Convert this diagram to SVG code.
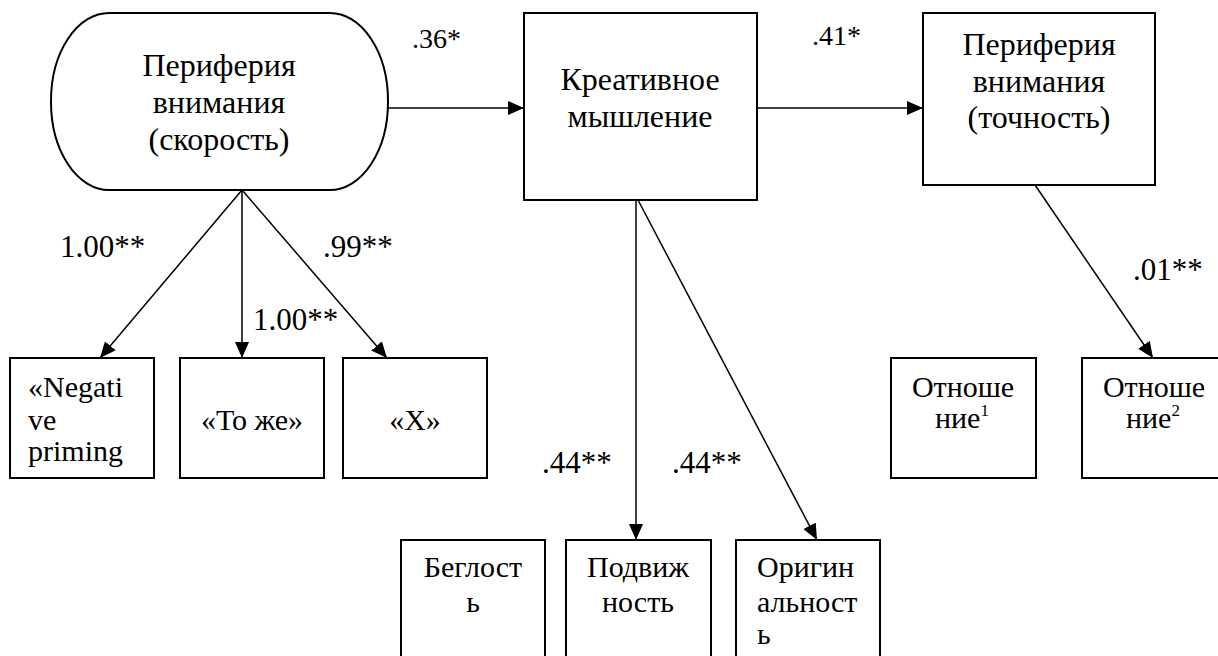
<svg xmlns="http://www.w3.org/2000/svg" width="1218" height="656" viewBox="0 0 1218 656">
  <defs>
    <marker id="arrow" viewBox="0 0 16 14" refX="16" refY="7" markerWidth="16" markerHeight="14" markerUnits="userSpaceOnUse" orient="auto">
      <path d="M0,0 L16,7 L0,14 Z" fill="#000"/>
    </marker>
  </defs>
  <style>
    .node { fill: #fff; stroke: #000; stroke-width: 2; }
    .edge { stroke: #000; stroke-width: 1.5; fill: none; marker-end: url(#arrow); }
  </style>
  <rect width="1218" height="656" fill="#fff"/>

  <!-- connectors -->
  <g id="connectors">
    <line class="edge" x1="388" y1="108" x2="524" y2="108"/>
    <line class="edge" x1="757" y1="108" x2="923" y2="108"/>
    <line class="edge" x1="242" y1="190" x2="100" y2="358"/>
    <line class="edge" x1="242" y1="190" x2="242" y2="358"/>
    <line class="edge" x1="242" y1="190" x2="387" y2="358"/>
    <line class="edge" x1="636" y1="200" x2="636" y2="540"/>
    <line class="edge" x1="638" y1="200" x2="817" y2="540"/>
    <line class="edge" x1="1035" y1="185" x2="1153" y2="358"/>
  </g>

  <!-- path coefficients -->
  <g id="coefficients">
    <text font-family="Liberation Serif" font-size="28" x="412" y="48">.36*</text>
    <text font-family="Liberation Serif" font-size="28" x="812" y="45">.41*</text>
    <text font-family="Liberation Serif" font-size="31" x="60" y="257">1.00**</text>
    <text font-family="Liberation Serif" font-size="31" x="253" y="330">1.00**</text>
    <text font-family="Liberation Serif" font-size="31" x="323" y="257">.99**</text>
    <text font-family="Liberation Serif" font-size="31" x="542" y="473">.44**</text>
    <text font-family="Liberation Serif" font-size="31" x="672" y="473">.44**</text>
    <text font-family="Liberation Serif" font-size="31" x="1133" y="280">.01**</text>
  </g>

  <g id="speed">
    <rect class="node" x="51" y="13" width="337" height="177" rx="58" ry="88"/>
    <text font-family="Liberation Serif" font-size="32" text-anchor="middle" x="219" y="76">Периферия</text>
    <text font-family="Liberation Serif" font-size="32" text-anchor="middle" x="219" y="113">внимания</text>
    <text font-family="Liberation Serif" font-size="32" text-anchor="middle" x="219" y="150">(скорость)</text>
  </g>

  <g id="creative">
    <rect class="node" x="524" y="13" width="233" height="187"/>
    <text font-family="Liberation Serif" font-size="32" text-anchor="middle" x="640" y="90">Креативное</text>
    <text font-family="Liberation Serif" font-size="32" text-anchor="middle" x="640" y="127">мышление</text>
  </g>

  <g id="accuracy">
    <rect class="node" x="923" y="13" width="232" height="172"/>
    <text font-family="Liberation Serif" font-size="32" text-anchor="middle" x="1039" y="55">Периферия</text>
    <text font-family="Liberation Serif" font-size="32" text-anchor="middle" x="1039" y="92">внимания</text>
    <text font-family="Liberation Serif" font-size="32" text-anchor="middle" x="1039" y="128">(точность)</text>
  </g>

  <g id="negative-priming">
    <rect class="node" x="10" y="358" width="144" height="120"/>
    <text font-family="Liberation Serif" font-size="30" x="28" y="397">«Negati</text>
    <text font-family="Liberation Serif" font-size="30" x="28" y="430">ve</text>
    <text font-family="Liberation Serif" font-size="30" x="28" y="461">priming</text>
  </g>

  <g id="same">
    <rect class="node" x="180" y="358" width="144" height="120"/>
    <text font-family="Liberation Serif" font-size="30" text-anchor="middle" x="252" y="430">«То же»</text>
  </g>

  <g id="x">
    <rect class="node" x="343" y="358" width="144" height="120"/>
    <text font-family="Liberation Serif" font-size="30" text-anchor="middle" x="415" y="430">«X»</text>
  </g>

  <g id="fluency">
    <rect class="node" x="401" y="540" width="144" height="130"/>
    <text font-family="Liberation Serif" font-size="30" text-anchor="middle" x="473" y="577">Беглост</text>
    <text font-family="Liberation Serif" font-size="30" text-anchor="middle" x="473" y="612">ь</text>
  </g>

  <g id="flexibility">
    <rect class="node" x="566" y="540" width="145" height="130"/>
    <text font-family="Liberation Serif" font-size="30" text-anchor="middle" x="638" y="577">Подвиж</text>
    <text font-family="Liberation Serif" font-size="30" text-anchor="middle" x="638" y="612">ность</text>
  </g>

  <g id="originality">
    <rect class="node" x="736" y="540" width="144" height="130"/>
    <text font-family="Liberation Serif" font-size="30" x="757" y="577">Оригин</text>
    <text font-family="Liberation Serif" font-size="30" x="757" y="612">альност</text>
    <text font-family="Liberation Serif" font-size="30" x="757" y="644">ь</text>
  </g>

  <g id="relation-1">
    <rect class="node" x="891" y="358" width="145" height="120"/>
    <text font-family="Liberation Serif" font-size="30" text-anchor="middle" x="963" y="397">Отноше</text>
    <text font-family="Liberation Serif" font-size="30" x="935" y="428">ние<tspan font-size="17" dy="-12">1</tspan></text>
  </g>

  <g id="relation-2">
    <rect class="node" x="1082" y="358" width="144" height="120"/>
    <text font-family="Liberation Serif" font-size="30" text-anchor="middle" x="1154" y="397">Отноше</text>
    <text font-family="Liberation Serif" font-size="30" x="1126" y="428">ние<tspan font-size="17" dy="-12">2</tspan></text>
  </g>
</svg>
